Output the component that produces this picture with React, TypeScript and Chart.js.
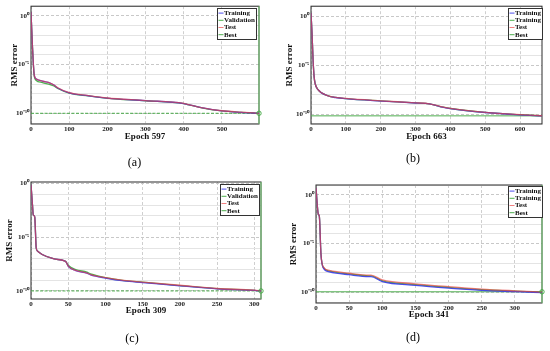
import React, { useEffect, useRef } from 'react';
import { Chart, registerables } from 'chart.js';

Chart.register(...registerables);

const SERIF = '"Liberation Serif", "Times New Roman", Times, serif';

// ---------- Panel (a) : values are log10(RMS error) ----------
const EPOCHS_A = [0, 2, 4, 6, 8, 10, 13, 30, 50, 60, 70, 100, 150, 200, 300, 400, 410, 450, 500, 550, 597];
const TRAIN_A = [0.4, -1.5, -3.3, -4.8, -5.9, -6.3, -6.45, -6.7, -6.9, -7.1, -7.4, -7.9, -8.2, -8.45, -8.7, -9.0, -9.1, -9.45, -9.75, -9.9, -10.0];
const VAL_A = [0.4, -1.5, -3.3, -4.8, -6.0, -6.4, -6.6, -6.85, -7.05, -7.2, -7.45, -7.92, -8.22, -8.46, -8.71, -9.01, -9.1, -9.46, -9.76, -9.9, -10.0];
const TEST_A = [0.4, -1.5, -3.3, -4.8, -5.9, -6.3, -6.45, -6.7, -6.9, -7.1, -7.38, -7.88, -8.18, -8.43, -8.69, -8.99, -9.08, -9.44, -9.74, -9.89, -10.0];
const BEST_A = -10.0;
const X_TICKS_A = [0, 100, 200, 300, 400, 500];
const LEGEND_A = ['Training', 'Validation', 'Test', 'Best'];

// ---------- Panel (b) ----------
const EPOCHS_B = [0, 3, 6, 9, 12, 20, 50, 70, 100, 200, 300, 340, 380, 400, 500, 600, 663];
const TRAIN_B = [0.3, -1.8, -4.5, -6.2, -6.9, -7.5, -8.15, -8.3, -8.42, -8.66, -8.86, -8.96, -9.3, -9.43, -9.83, -10.07, -10.17];
const VAL_B = [0.3, -1.8, -4.5, -6.2, -6.9, -7.5, -8.14, -8.29, -8.41, -8.65, -8.85, -8.95, -9.29, -9.42, -9.82, -10.06, -10.17];
const TEST_B = [0.3, -1.8, -4.5, -6.2, -6.9, -7.5, -8.13, -8.28, -8.4, -8.64, -8.84, -8.94, -9.28, -9.41, -9.81, -10.05, -10.16];
const BEST_B = -10.17;
const X_TICKS_B = [0, 100, 200, 300, 400, 500, 600];
const LEGEND_B = ['Training', 'Training', 'Test', 'Best'];

// ---------- Panel (c) ----------
const EPOCHS_C = [0, 2, 3, 5, 7, 9, 15, 30, 45, 47, 50, 60, 75, 80, 100, 125, 150, 200, 250, 300, 309];
const TRAIN_C = [-0.1, -2.0, -2.9, -3.1, -6.0, -6.3, -6.6, -7.0, -7.2, -7.3, -7.7, -8.1, -8.35, -8.5, -8.8, -9.07, -9.22, -9.52, -9.8, -9.95, -10.0];
const VAL_C = [-0.1, -2.0, -2.9, -3.1, -6.0, -6.3, -6.6, -7.0, -7.2, -7.28, -7.6, -8.0, -8.25, -8.4, -8.75, -9.03, -9.18, -9.5, -9.78, -9.94, -10.0];
const TEST_C = [-0.1, -2.0, -2.9, -3.1, -6.0, -6.3, -6.6, -7.0, -7.2, -7.3, -7.68, -8.08, -8.33, -8.47, -8.76, -9.02, -9.17, -9.47, -9.77, -9.93, -10.0];
const BEST_C = -10.0;
const X_TICKS_C = [0, 50, 100, 150, 200, 250, 300];
const LEGEND_C = ['Training', 'Validation', 'Test', 'Best'];

// ---------- Panel (d) ----------
const EPOCHS_D = [0, 3.5, 5, 7.5, 11, 20, 50, 80, 83, 100, 150, 200, 250, 300, 341];
const TRAIN_D = [0.7, -2.0, -2.2, -6.1, -7.5, -7.9, -8.2, -8.4, -8.4, -8.9, -9.3, -9.58, -9.8, -9.93, -10.03];
const VAL_D = [0.7, -2.0, -2.2, -6.1, -7.45, -7.82, -8.12, -8.32, -8.32, -8.82, -9.22, -9.5, -9.74, -9.89, -10.0];
const TEST_D = [0.7, -2.0, -2.2, -6.1, -7.4, -7.75, -8.05, -8.25, -8.25, -8.72, -9.13, -9.42, -9.67, -9.85, -9.98];
const BEST_D = -9.95;
const X_TICKS_D = [0, 50, 100, 150, 200, 250, 300];
const LEGEND_D = ['Training', 'Training', 'Test', 'Best'];

// ---------- common tick labels ----------
const Y_TICK_EXPONENTS = [0, -5, -10];
const Y_TICK_LABELS = ['10\u2070', '10\u207B\u2075', '10\u207B\u00B9\u2070'];
const Y_TITLE = 'RMS error';

const TRAIN_COLOR = 'rgba(60,60,235,0.9)';
const VAL_COLOR = 'rgba(60,170,60,0.9)';
const TEST_COLOR = 'rgba(235,60,60,0.65)';
const BEST_COLOR = 'rgba(70,170,70,0.95)';
const GOAL_COLOR = 'rgba(120,200,120,0.95)';

type Panel = {
  caption: string; xTitle: string;
  epochs: number[]; train: number[]; val: number[]; test: number[];
  best: number; maxEpoch: number; xTicks: number[]; legend: string[];
  yMin: number; yMax: number; goalLine: boolean; marker: boolean; bestDash: number[];
  box: { cx: number; cy: number; cw: number; ch: number };
  plot: { L: number; T: number; R: number; B: number };
  capX: number; capY: number; xtY: number; ytX: number;
  legInset: number; legTop: number;
};

const PANELS: Panel[] = [
  {
    caption: '(a)', xTitle: 'Epoch 597', epochs: EPOCHS_A, train: TRAIN_A, val: VAL_A, test: TEST_A,
    best: BEST_A, maxEpoch: 597, xTicks: X_TICKS_A, legend: LEGEND_A, yMin: -11.1, yMax: 1,
    goalLine: true, marker: true, bestDash: [3, 1.5],
    box: { cx: 0, cy: 0, cw: 275, ch: 175 }, plot: { L: 31, T: 6, R: 259, B: 124 },
    capX: 135, capY: 163, xtY: 137, ytX: 14.5, legInset: 3, legTop: 2,
  },
  {
    caption: '(b)', xTitle: 'Epoch 663', epochs: EPOCHS_B, train: TRAIN_B, val: VAL_B, test: TEST_B,
    best: BEST_B, maxEpoch: 663, xTicks: X_TICKS_B, legend: LEGEND_B, yMin: -11, yMax: 1,
    goalLine: false, marker: false, bestDash: [],
    box: { cx: 275, cy: 0, cw: 275, ch: 175 }, plot: { L: 311, T: 5, R: 542, B: 124 },
    capX: 413, capY: 159, xtY: 137, ytX: 290, legInset: 0, legTop: 2,
  },
  {
    caption: '(c)', xTitle: 'Epoch 309', epochs: EPOCHS_C, train: TRAIN_C, val: VAL_C, test: TEST_C,
    best: BEST_C, maxEpoch: 309, xTicks: X_TICKS_C, legend: LEGEND_C, yMin: -10.75, yMax: 0.15,
    goalLine: true, marker: true, bestDash: [3, 1.5],
    box: { cx: 0, cy: 175, cw: 275, ch: 176 }, plot: { L: 31, T: 182, R: 261, B: 299 },
    capX: 132, capY: 339, xtY: 311, ytX: 9.5, legInset: 2, legTop: 2,
  },
  {
    caption: '(d)', xTitle: 'Epoch 341', epochs: EPOCHS_D, train: TRAIN_D, val: VAL_D, test: TEST_D,
    best: BEST_D, maxEpoch: 341, xTicks: X_TICKS_D, legend: LEGEND_D, yMin: -11.1, yMax: 1,
    goalLine: true, marker: true, bestDash: [],
    box: { cx: 275, cy: 175, cw: 275, ch: 176 }, plot: { L: 316, T: 185, R: 542, B: 303 },
    capX: 413, capY: 338, xtY: 315, ytX: 294, legInset: 0, legTop: 1,
  },
];

const framePlugin = {
  id: 'frame',
  beforeDatasetsDraw(chart: any) {
    const { ctx, chartArea: a } = chart;
    ctx.save();
    ctx.strokeStyle = '#2a2a2a';
    ctx.lineWidth = 1;
    ctx.strokeRect(a.left, a.top, a.right - a.left, a.bottom - a.top);
    ctx.restore();
  },
};

const boxLegendPlugin = {
  id: 'boxLegend',
  afterDraw(chart: any, _args: any, opts: any) {
    const { ctx, chartArea: a } = chart;
    const items = chart.data.datasets.filter((d: any) => d.inLegend);
    ctx.save();
    ctx.font = 'bold 7px ' + SERIF;
    const rowH = 7.2;
    const sample = 5;
    let tw = 0;
    items.forEach((d: any) => { tw = Math.max(tw, ctx.measureText(d.label).width); });
    const w = Math.round(1 + sample + 1 + tw + 1.5);
    const h = Math.round(items.length * rowH + 2);
    const x = Math.round(a.right - (opts.inset || 0) - w) + 0.5;
    const y = Math.round(a.top + (opts.top || 0)) + 0.5;
    ctx.fillStyle = '#fff';
    ctx.fillRect(x, y, w, h);
    ctx.strokeStyle = '#333';
    ctx.lineWidth = 1;
    ctx.strokeRect(x, y, w, h);
    items.forEach((d: any, i: number) => {
      const cy = y + 1 + rowH * i + rowH / 2;
      ctx.strokeStyle = d.borderColor;
      ctx.beginPath();
      ctx.moveTo(x + 1, cy);
      ctx.lineTo(x + 1 + sample, cy);
      ctx.stroke();
      ctx.fillStyle = '#111';
      ctx.textBaseline = 'middle';
      ctx.textAlign = 'left';
      ctx.fillText(d.label, x + 1 + sample + 0.5, cy);
    });
    ctx.restore();
  },
};

const pts = (xs: number[], ys: number[]) => xs.map((x, i) => ({ x, y: Math.pow(10, ys[i]) }));

function buildConfig(p: Panel): any {
  const { cx, cy, cw, ch } = p.box;
  const l = p.plot.L - cx, t = p.plot.T - cy, r = p.plot.R - cx, b = p.plot.B - cy;
  const capX = p.capX - cx, capY = p.capY - cy, xtY = p.xtY - cy, ytX = p.ytX - cx;
  const yTitleLH = 9;
  const padL = Math.max(0, Math.min(2 * capX - r, ytX - yTitleLH / 2));
  const capLH = 12 * 1.2;
  const capPadBottom = Math.max(0, ch - capY - capLH / 2);
  const titleH = capLH + capPadBottom;
  const xAxisBottom = ch - titleH;
  const xAxisH = xAxisBottom - b;
  const xTitleLH = 9;
  const xTitlePadBottom = Math.max(0, xAxisBottom - xtY - xTitleLH / 2);
  const yAxisW = l - padL;
  const yTitlePadTop = Math.max(0, ytX - padL - yTitleLH / 2);

  const decades: number[] = [];
  for (let e = Math.ceil(p.yMin); e <= Math.floor(p.yMax); e++) decades.push(e);

  const tickFont = { family: SERIF, size: 7, weight: 'bold' as const };
  const titleFont = { family: SERIF, size: 9, weight: 'bold' as const, lineHeight: 1 };

  const isMajor = (v: number) => Y_TICK_EXPONENTS.includes(Math.round(Math.log10(v)));

  const datasets: any[] = [
    { label: p.legend[0], data: pts(p.epochs, p.train), borderColor: TRAIN_COLOR, order: 1, inLegend: true, borderWidth: 1.3 },
    { label: p.legend[1], data: pts(p.epochs, p.val), borderColor: VAL_COLOR, order: 2, inLegend: true, borderWidth: 1.3 },
    { label: p.legend[2], data: pts(p.epochs, p.test), borderColor: TEST_COLOR, order: 0, inLegend: true, borderWidth: 1.3 },
    {
      label: p.legend[3], data: [{ x: 0, y: Math.pow(10, p.best) }, { x: p.maxEpoch, y: Math.pow(10, p.best) }],
      borderColor: BEST_COLOR, borderDash: p.bestDash, order: 3, inLegend: true, borderWidth: 1,
    },
  ].map((d) => ({ ...d, pointRadius: 0, cubicInterpolationMode: 'monotone', fill: false }));

  if (p.goalLine) {
    datasets.push({
      label: 'Goal', data: [{ x: p.maxEpoch, y: Math.pow(10, p.yMin) }, { x: p.maxEpoch, y: Math.pow(10, p.yMax) }],
      borderColor: GOAL_COLOR, borderWidth: 1.2, pointRadius: 0, clip: false, order: 4,
    });
  }
  if (p.marker) {
    datasets.push({
      label: 'Best point', data: [{ x: p.maxEpoch, y: Math.pow(10, p.best) }], showLine: false,
      pointRadius: 2.2, pointBorderWidth: 1, pointBorderColor: BEST_COLOR, pointBackgroundColor: 'rgba(255,255,255,0)',
      borderColor: BEST_COLOR, clip: false, order: -1,
    });
  }

  return {
    type: 'line',
    data: { datasets },
    plugins: [framePlugin, boxLegendPlugin],
    options: {
      animation: false,
      responsive: false,
      devicePixelRatio: 1,
      layout: { padding: { left: padL, top: t, right: cw - r, bottom: 0 } },
      plugins: {
        legend: { display: false },
        tooltip: { enabled: false },
        boxLegend: { inset: p.legInset, top: p.legTop },
        title: {
          display: true, position: 'bottom', text: p.caption, color: '#000',
          font: { family: SERIF, size: 12, weight: 'normal', lineHeight: 1.2 },
          padding: { top: 0, bottom: capPadBottom },
        },
      },
      scales: {
        x: {
          type: 'linear', min: 0, max: p.maxEpoch,
          afterBuildTicks: (s: any) => { s.ticks = p.xTicks.map((v) => ({ value: v })); },
          afterFit: (s: any) => { s.height = xAxisH; },
          ticks: { font: tickFont, color: '#1a1a1a', padding: 1, autoSkip: false, maxRotation: 0, callback: (v: any) => String(v) },
          grid: { color: '#cfcfcf', drawTicks: false, lineWidth: 1 },
          border: { display: false, dash: [3, 2] },
          title: { display: true, text: p.xTitle, color: '#111', font: titleFont, padding: { top: 0, bottom: xTitlePadBottom } },
        },
        y: {
          type: 'logarithmic', min: Math.pow(10, p.yMin), max: Math.pow(10, p.yMax),
          afterBuildTicks: (s: any) => { s.ticks = decades.map((e) => ({ value: Math.pow(10, e) })); },
          afterFit: (s: any) => { s.width = yAxisW; },
          ticks: {
            font: tickFont, color: '#1a1a1a', padding: 2, autoSkip: false,
            callback: (v: any) => {
              const k = Y_TICK_EXPONENTS.indexOf(Math.round(Math.log10(v)));
              return k >= 0 ? Y_TICK_LABELS[k] : '';
            },
          },
          grid: {
            drawTicks: false, lineWidth: 1,
            color: (c: any) => (c.tick && isMajor(c.tick.value) ? '#c8c8c8' : '#e4e4e4'),
          },
          border: {
            display: false,
            dash: (c: any) => (c.tick && isMajor(c.tick.value) ? [3, 2] : []),
          },
          title: { display: true, text: Y_TITLE, color: '#111', font: titleFont, padding: { top: yTitlePadTop, bottom: 0 } },
        },
      },
    },
  };
}

export default function App() {
  const refs = useRef<(HTMLCanvasElement | null)[]>([]);
  useEffect(() => {
    const charts = PANELS.map((p, i) => new Chart(refs.current[i] as HTMLCanvasElement, buildConfig(p)));
    return () => charts.forEach((c) => c.destroy());
  }, []);
  return (
    <div style={{ position: 'absolute', left: 0, top: 0, width: 550, height: 351, background: '#fff', overflow: 'hidden' }}>
      {PANELS.map((p, i) => (
        <canvas
          key={i}
          ref={(el) => { refs.current[i] = el; }}
          width={p.box.cw}
          height={p.box.ch}
          style={{ position: 'absolute', left: p.box.cx, top: p.box.cy, width: p.box.cw, height: p.box.ch }}
        />
      ))}
    </div>
  );
}
